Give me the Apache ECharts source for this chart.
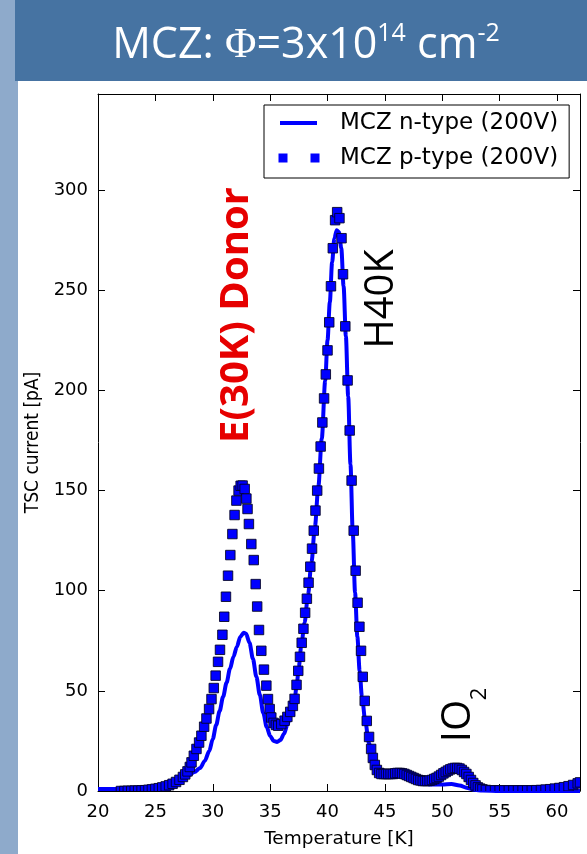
<!DOCTYPE html>
<html>
<head>
<meta charset="utf-8">
<script src="https://cdn.jsdelivr.net/npm/echarts@6/dist/echarts.min.js"></script>
<style>
  html, body { margin: 0; padding: 0; background: #fff; }
  #chart { width: 587px; height: 854px; }
</style>
</head>
<body>
<div id="chart"></div>
<script>
// MCZ n-type (200V): solid line
const nTemp = [20, 21, 22, 23, 24, 25, 25.8, 26.5, 27.2, 27.8, 28.4, 28.9,
  29.3, 29.7, 30.0, 30.3, 30.6, 30.9, 31.2, 31.5, 31.8, 32.1, 32.4, 32.7,
  32.9, 33.2, 33.5, 33.8, 34.1, 34.4, 34.7, 35.0, 35.3, 35.6, 35.9, 36.2,
  36.5, 36.8, 37.1, 37.3, 37.5, 37.7, 38.0, 38.3, 38.6, 38.9, 39.2, 39.5,
  39.8, 40.0, 40.2, 40.4, 40.6, 40.8, 41.0, 41.2, 41.4, 41.6, 41.8, 42.0,
  42.2, 42.4, 42.6, 42.8, 43.0, 43.3, 43.6, 43.9, 44.2, 44.6, 45.2, 46.0,
  46.8, 47.5, 48.3, 49.0, 50.0, 50.8, 51.5, 52.2, 52.8, 53.5, 55, 57, 60, 62]
const nCurrent = [1, 1, 1, 1.2, 1.5, 2, 2.8, 4, 5.8, 7.5, 9.5, 11.5,
  15, 20, 26, 33, 40, 47, 54, 61, 67, 72, 77, 79,
  78.5, 74, 66, 57, 48, 39, 32, 27.5, 25, 24.5, 25.5, 28.5,
  33, 38, 44, 52, 62, 72, 84, 98, 114, 132, 152, 176,
  205, 225, 244, 264, 276, 280, 279, 271, 252, 227, 197, 163,
  129, 99, 77, 60, 47, 34.5, 24, 17, 12.5, 10.5, 9.8, 9.5,
  8.5, 6, 4, 3.2, 3.2, 3.5, 2.8, 1.5, 0.6, 0.2, 0, 0, 0, 0]

// MCZ p-type (200V): square markers
const pTemp = [22.0, 22.3, 22.6, 22.9, 23.2, 23.5, 23.8, 24.1, 24.4, 24.7,
  25.0, 25.3, 25.6, 25.9, 26.2, 26.5, 26.8, 27.1, 27.4, 27.6,
  27.8, 28.0, 28.15, 28.35, 28.58, 28.81, 29.01, 29.25, 29.45, 29.68,
  29.89, 30.09, 30.25, 30.46, 30.63, 30.84, 31.0, 31.15, 31.33, 31.53,
  31.71, 31.9, 32.06, 32.25, 32.43, 32.6, 32.78, 32.93, 33.03, 33.15,
  33.36, 33.57, 33.74, 33.87, 34.03, 34.23, 34.46, 34.67, 34.81, 34.96,
  35.1, 35.3, 35.5, 35.7, 35.97, 36.26, 36.5, 36.75, 36.98, 37.13,
  37.3, 37.45, 37.6, 37.75, 37.9, 38.05, 38.2, 38.35, 38.5, 38.65,
  38.8, 38.95, 39.1, 39.25, 39.4, 39.55, 39.7, 39.85, 40.0, 40.15,
  40.3, 40.46, 40.66, 40.84, 41.04, 41.22, 41.35, 41.55, 41.75, 41.93,
  42.1, 42.28, 42.45, 42.62, 42.78, 42.92, 43.07, 43.24, 43.42, 43.62,
  43.8, 43.95, 44.12, 44.3, 44.5, 44.7, 44.9, 45.1, 45.3, 45.5,
  45.7, 45.9, 46.1, 46.3, 46.5, 46.7, 46.9, 47.1, 47.3, 47.5,
  47.7, 47.9, 48.1, 48.3, 48.5, 48.7, 48.9, 49.1, 49.3, 49.5,
  49.7, 49.9, 50.1, 50.3, 50.5, 50.7, 50.9, 51.1, 51.3, 51.5,
  51.7, 51.9, 52.1, 52.3, 52.5, 52.7, 52.9, 53.1, 53.3, 53.5,
  53.8, 54.2, 54.6, 55.0, 55.4, 55.8, 56.2, 56.6, 57.0, 57.4,
  57.8, 58.2, 58.6, 59.0, 59.4, 59.8, 60.2, 60.6, 61.0, 61.4,
  61.8, 62.0]
const pCurrent = [0, 0, 0.1, 0.1, 0.2, 0.2, 0.3, 0.4, 0.6, 0.8,
  1.1, 1.4, 1.8, 2.3, 2.9, 3.6, 4.5, 5.6, 7, 8.3,
  9.8, 12, 14.3, 17.6, 21, 24.2, 27.6, 32.1, 36.2, 40.9,
  45.9, 51.4, 57.6, 64.5, 70.5, 78, 87, 97, 107.5, 117.8,
  128.3, 137.8, 145, 150, 152.4, 152.5, 150.8, 146, 140.8, 133.3,
  123.3, 115.3, 103.3, 92.1, 80.4, 70, 60.6, 52.6, 45.9, 40.9,
  36.7, 34, 33, 32.6, 33.4, 35.1, 37, 39.5, 42.5, 46,
  53, 60, 67, 74, 81, 89, 96, 104, 112, 121,
  130, 140, 150, 161, 172, 184, 196, 208, 220, 234,
  252, 271, 285, 289, 286, 276, 258, 232, 205, 180,
  155, 130, 110, 94, 82, 70, 57, 45, 35, 27,
  21, 16.5, 13, 10.5, 9, 8.5, 8.5, 8.5, 8.5, 8.5,
  8.5, 8.8, 9, 9, 8.8, 8.5, 8, 7.5, 7, 6.5,
  6, 5.5, 5.3, 5, 5, 5, 5.2, 5.5, 6, 6.5,
  7.2, 8, 8.8, 9.5, 10.2, 10.8, 11.2, 11.5, 11.5, 11.2,
  10.5, 9.5, 8.5, 7, 5.5, 4, 2.8, 1.8, 1.2, 0.8,
  0.5, 0.3, 0.3, 0.3, 0.3, 0.3, 0.3, 0.3, 0.3, 0.3,
  0.3, 0.4, 0.5, 0.7, 0.9, 1.2, 1.5, 1.9, 2.4, 3,
  3.8, 4.3]

const chart = echarts.init(document.getElementById('chart'))

// legend icons: tiny dots at the corners fix the bounding box to 57x9
const lineIcon = 'path://M0,0h0.01v0.01h-0.01zM2,2.5h37v4h-37zM56.99,8.99h0.01v0.01h-0.01z'
const squaresIcon = 'path://M0,0h0.01v0.01h-0.01zM0.5,0h9v9h-9zM32.5,0h9v9h-9zM56.99,8.99h0.01v0.01h-0.01z'

const axisCommon = {
  axisLine: { onZero: false, lineStyle: { color: '#000', width: 1 } },
  axisTick: { inside: true, length: 7, lineStyle: { color: '#000' } },
  splitLine: { show: false }
}

const option = {
  animation: false,
  backgroundColor: '#fff',
  textStyle: { fontFamily: 'DejaVu Sans' },
  grid: { left: 98, top: 94, right: 7, bottom: 62, containLabel: false },
  legend: {
    orient: 'vertical',
    left: 264,
    top: 105,
    padding: [3, 11, 5, 14],
    itemGap: 5,
    itemWidth: 57,
    itemHeight: 9,
    borderColor: '#000',
    borderWidth: 1,
    borderRadius: 0,
    backgroundColor: '#fff',
    selectedMode: false,
    textStyle: { fontFamily: 'DejaVu Sans', fontSize: 23, color: '#000', lineHeight: 30 },
    data: [
      { name: 'MCZ n-type (200V)', icon: lineIcon, itemStyle: { color: '#0000ff', borderWidth: 0 } },
      { name: 'MCZ p-type (200V)', icon: squaresIcon, itemStyle: { color: '#0000ff', borderWidth: 0 } }
    ]
  },
  xAxis: [
    {
      ...axisCommon,
      type: 'value', min: 20, max: 62, interval: 5, position: 'bottom',
      axisLabel: { fontFamily: 'DejaVu Sans', fontSize: 18, color: '#000', margin: 12,
        formatter: v => (v % 5 === 0 ? String(v) : '') },
      name: 'Temperature [K]', nameLocation: 'middle', nameGap: 39,
      nameTextStyle: { fontFamily: 'DejaVu Sans', fontSize: 18.5, color: '#000' }
    },
    {
      ...axisCommon,
      type: 'value', min: 20, max: 62, interval: 5, position: 'top',
      axisLabel: { show: false }
    }
  ],
  yAxis: [
    {
      ...axisCommon,
      type: 'value', min: 0, max: 348, interval: 50, position: 'left',
      axisLabel: { fontFamily: 'DejaVu Sans', fontSize: 18, color: '#000', margin: 10,
        formatter: v => (v % 50 === 0 ? String(v) : '') },
      name: 'TSC current [pA]', nameLocation: 'middle', nameGap: 55,
      nameTextStyle: { fontFamily: 'DejaVu Sans Condensed', fontSize: 19, color: '#000' }
    },
    {
      ...axisCommon,
      type: 'value', min: 0, max: 348, interval: 50, position: 'right',
      axisLabel: { show: false }
    }
  ],
  series: [
    {
      name: 'MCZ n-type (200V)',
      type: 'line',
      data: nTemp.map((t, i) => [t, nCurrent[i]]),
      symbol: 'none',
      smooth: 0.3,
      smoothMonotone: 'x',
      clip: true,
      lineStyle: { color: '#0000ff', width: 4 },
      itemStyle: { color: '#0000ff' },
      z: 2
    },
    {
      name: 'MCZ p-type (200V)',
      type: 'custom',
      data: pTemp.map((t, i) => [t, pCurrent[i]]),
      encode: { x: 0, y: 1 },
      clip: true,
      itemStyle: { color: '#0000ff' },
      renderItem: (params, api) => {
        const c = api.coord([api.value(0), api.value(1)])
        return {
          type: 'rect',
          shape: { x: c[0] - 4.75, y: c[1] - 4.75, width: 9.5, height: 9.5 },
          style: { fill: '#0000ff', stroke: 'rgba(0,0,30,0.85)', lineWidth: 1 }
        }
      },
      z: 3
    }
  ],
  graphic: [
    // slide background
    { type: 'rect', z: -20, silent: true, shape: { x: 0, y: 0, width: 18, height: 854 }, style: { fill: '#8eaacb' } },
    { type: 'rect', z: -19, silent: true, shape: { x: 15, y: 0, width: 572, height: 81 }, style: { fill: '#4673a2' } },
    {
      type: 'text', z: 50, x: 306, y: 46,
      style: {
        text: '{t|MCZ: }{phi|Φ}{t|=3x10}{sup|14}{t| cm}{sup|-2}',
        align: 'center', verticalAlign: 'middle',
        rich: {
          t: { fill: '#fff', fontFamily: 'Open Sans', fontSize: 43, lineHeight: 50 },
          phi: { fill: '#fff', fontFamily: 'Liberation Serif', fontSize: 43, lineHeight: 50 },
          sup: { fill: '#fff', fontFamily: 'Open Sans', fontSize: 25, lineHeight: 25, verticalAlign: 'top' }
        }
      }
    },
    // peak labels
    {
      type: 'text', z: 50, x: 237, y: 315, rotation: Math.PI / 2,
      style: { text: 'E(30K) Donor', fill: '#e60000', fontFamily: 'Open Sans', fontWeight: 'bold',
        fontSize: 40, align: 'center', verticalAlign: 'middle' }
    },
    {
      type: 'text', z: 50, x: 382, y: 299, rotation: Math.PI / 2,
      style: { text: 'H40K', fill: '#000', fontFamily: 'Open Sans', fontSize: 40,
        align: 'center', verticalAlign: 'middle' }
    },
    {
      type: 'text', z: 50, x: 459, y: 721, rotation: Math.PI / 2,
      style: { text: 'IO', fill: '#000', fontFamily: 'Open Sans', fontSize: 40,
        align: 'center', verticalAlign: 'middle' }
    },
    {
      type: 'text', z: 50, x: 480, y: 694, rotation: Math.PI / 2,
      style: { text: '2', fill: '#000', fontFamily: 'Open Sans', fontSize: 22,
        align: 'center', verticalAlign: 'middle' }
    }
  ]
}

chart.setOption(option)
</script>
</body>
</html>
